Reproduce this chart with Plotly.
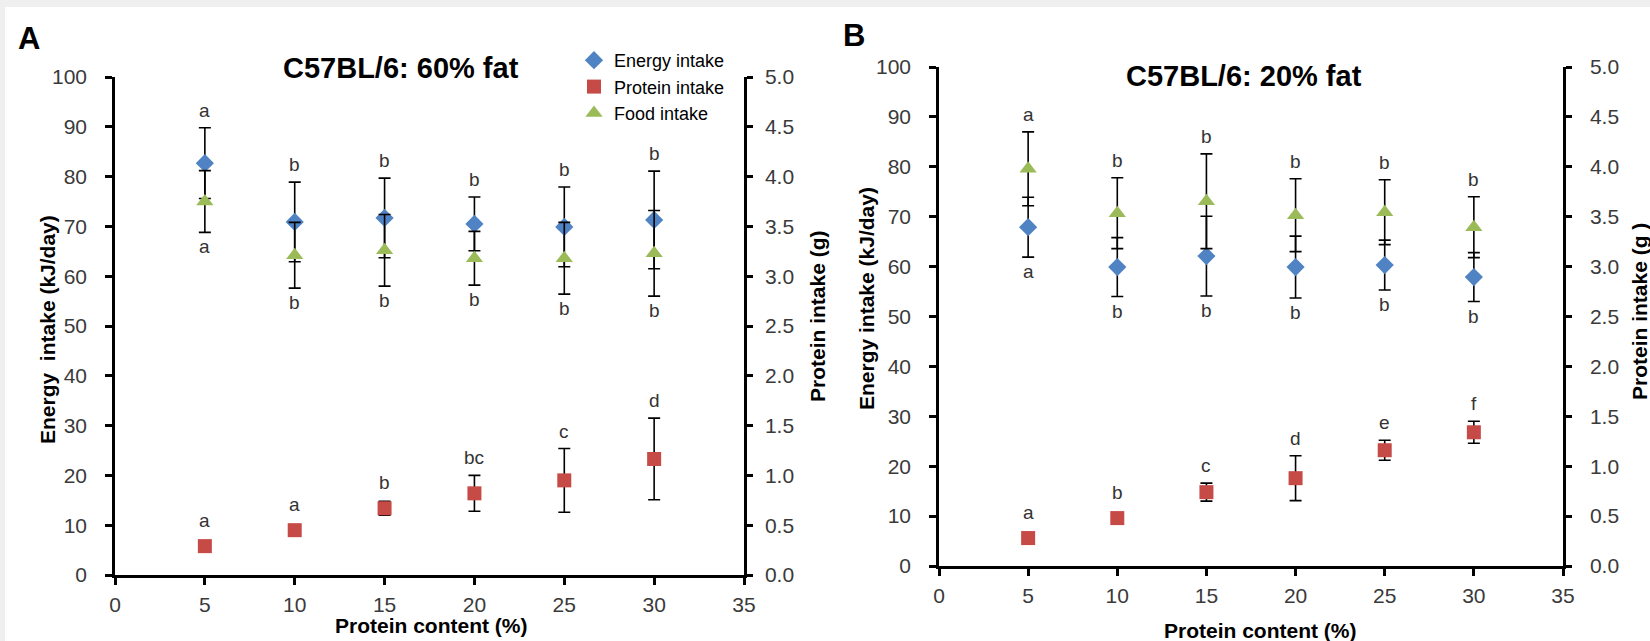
import plotly.graph_objects as go

W, H = 1650, 641

# ---------------- data ----------------
protein_content = [5, 10, 15, 20, 25, 30]

# Panel A: C57BL/6, 60% fat
a_energy = [82.7, 70.9, 71.7, 70.5, 69.9, 71.3]          # kJ/day
a_energy_se = [7.1, 8.0, 8.0, 5.4, 8.0, 9.8]
a_food = [3.75, 3.21, 3.26, 3.18, 3.18, 3.23]             # g
a_food_se = [0.31, 0.33, 0.36, 0.27, 0.36, 0.43]
a_protein = [0.29, 0.45, 0.67, 0.82, 0.95, 1.165]         # g
a_protein_se = [0.02, 0.02, 0.07, 0.18, 0.32, 0.41]
a_top_letters = ["a", "b", "b", "b", "b", "b"]
a_bottom_letters = ["a", "b", "b", "b", "b", "b"]
a_protein_letters = ["a", "a", "b", "bc", "c", "d"]

# Panel B: C57BL/6, 20% fat
b_energy = [67.9, 59.9, 62.1, 59.9, 60.3, 57.9]
b_energy_se = [6.0, 5.9, 8.0, 6.2, 5.0, 4.9]
b_food = [3.98, 3.535, 3.655, 3.515, 3.545, 3.395]
b_food_se = [0.37, 0.355, 0.475, 0.365, 0.325, 0.305]
b_protein = [0.28, 0.48, 0.74, 0.88, 1.16, 1.34]
b_protein_se = [0.02, 0.02, 0.09, 0.225, 0.10, 0.11]
b_top_letters = ["a", "b", "b", "b", "b", "b"]
b_bottom_letters = ["a", "b", "b", "b", "b", "b"]
b_protein_letters = ["a", "b", "c", "d", "e", "f"]

x_ticks = [0, 5, 10, 15, 20, 25, 30, 35]
left_ticks = list(range(0, 101, 10))
right_ticks = [0.0, 0.5, 1.0, 1.5, 2.0, 2.5, 3.0, 3.5, 4.0, 4.5, 5.0]
LEFT_MAX, RIGHT_MAX = 100, 5.0

# ---------------- style ----------------
FONT = "Liberation Sans, Arial, sans-serif"
BLUE = "#4F83C4"
RED = "#C64A45"
GREEN = "#9BBB59"
TICKCOL = "#3a3a3a"

def px2paper_y(p):
    return 1 - p / H

def px2paper_x(p):
    return p / W

fig = go.Figure()

def err(arr):
    return dict(type="data", array=arr, visible=True, color="black",
                thickness=1.6, width=6)

def add_panel(xa, yl, yr, energy, energy_se, food, food_se, protein, protein_se, show):
    fig.add_trace(go.Scatter(
        x=protein_content, y=energy, mode="markers", name="Energy intake",
        marker=dict(symbol="diamond", size=14, color=BLUE),
        error_y=err(energy_se), xaxis=xa, yaxis=yl, showlegend=show))
    fig.add_trace(go.Scatter(
        x=protein_content, y=protein, mode="markers", name="Protein intake",
        marker=dict(symbol="square", size=14, color=RED),
        error_y=err(protein_se), xaxis=xa, yaxis=yr, showlegend=show))
    fig.add_trace(go.Scatter(
        x=protein_content, y=food, mode="markers", name="Food intake",
        marker=dict(symbol="triangle-up", size=15, color=GREEN),
        error_y=err(food_se), xaxis=xa, yaxis=yr, showlegend=show))

add_panel("x", "y", "y2", a_energy, a_energy_se, a_food, a_food_se,
          a_protein, a_protein_se, True)
add_panel("x2", "y3", "y4", b_energy, b_energy_se, b_food, b_food_se,
          b_protein, b_protein_se, False)

annotations = []
ratio = LEFT_MAX / RIGHT_MAX

def letters(xref, yref, yref_r, energy, energy_se, food, food_se, protein,
            protein_se, top_l, bot_l, prot_l):
    for i, xv in enumerate(protein_content):
        top = max(energy[i] + energy_se[i], (food[i] + food_se[i]) * ratio)
        bot = min(energy[i] - energy_se[i], (food[i] - food_se[i]) * ratio)
        annotations.append(dict(x=xv, y=top, xref=xref, yref=yref, text=top_l[i],
                                showarrow=False, yanchor="bottom", yshift=5,
                                font=dict(family=FONT, size=19, color="#333")))
        annotations.append(dict(x=xv, y=bot, xref=xref, yref=yref, text=bot_l[i],
                                showarrow=False, yanchor="top", yshift=-2,
                                font=dict(family=FONT, size=19, color="#333")))
        ptop = max(protein[i] + protein_se[i], protein[i] + 0.08)
        annotations.append(dict(x=xv, y=ptop, xref=xref, yref=yref_r, text=prot_l[i],
                                showarrow=False, yanchor="bottom", yshift=5,
                                font=dict(family=FONT, size=19, color="#333")))

letters("x", "y", "y2", a_energy, a_energy_se, a_food, a_food_se, a_protein,
        a_protein_se, a_top_letters, a_bottom_letters, a_protein_letters)
letters("x2", "y3", "y4", b_energy, b_energy_se, b_food, b_food_se, b_protein,
        b_protein_se, b_top_letters, b_bottom_letters, b_protein_letters)

def text(x, y, s, size, bold=True, angle=0):
    annotations.append(dict(
        x=px2paper_x(x), y=px2paper_y(y), xref="paper", yref="paper",
        text=f"<b>{s}</b>" if bold else s, showarrow=False, textangle=angle,
        xanchor="center", yanchor="middle",
        font=dict(family=FONT, size=size, color="black")))

# panel letters and titles
text(29, 39, "A", 31)
text(854, 36, "B", 31)
text(401, 68, "C57BL/6: 60% fat", 29)
text(1244, 76, "C57BL/6: 20% fat", 29)
text(38, 656, "C", 31)
# axis titles
text(47, 330, "Energy\u00a0 intake (kJ/day)", 21, angle=-90)
text(818, 316, "Protein intake (g)", 21, angle=-90)
text(866, 299, "Energy intake (kJ/day)", 21, angle=-90)
text(1639, 312, "Protein intake (g )", 21, angle=-90)
text(431, 625, "Protein content (%)", 21)
text(1260, 630, "Protein content (%)", 21)

def xaxis(domain, anchor):
    return dict(domain=domain, anchor=anchor, range=[0, 35], tickvals=x_ticks,
                showline=True, linecolor="black", linewidth=2.5, showgrid=False,
                zeroline=False, ticks="outside", ticklen=7, tickwidth=2.5,
                tickcolor="black", ticklabelstandoff=2, automargin=False,
                tickfont=dict(family=FONT, size=21, color=TICKCOL), fixedrange=True)

def yleft(domain, anchor):
    return dict(domain=domain, anchor=anchor, range=[0, LEFT_MAX], tickvals=left_ticks,
                showline=True, linecolor="black", linewidth=2.5, showgrid=False,
                zeroline=False, ticks="outside", ticklen=7, tickwidth=2.5,
                tickcolor="black", ticklabelstandoff=14, automargin=False,
                tickfont=dict(family=FONT, size=21, color=TICKCOL), fixedrange=True)

def yright(overlay, anchor, standoff):
    return dict(overlaying=overlay, anchor=anchor, side="right", range=[0, RIGHT_MAX],
                tickvals=right_ticks, tickformat=".1f", automargin=False,
                showline=True, linecolor="black", linewidth=2.5, showgrid=False,
                zeroline=False, ticks="outside", ticklen=6, tickwidth=2.5,
                tickcolor="black", ticklabelstandoff=standoff,
                tickfont=dict(family=FONT, size=21, color=TICKCOL), fixedrange=True)

fig.update_layout(
    width=W, height=H,
    margin=dict(l=0, r=0, t=0, b=0, pad=0, autoexpand=False),
    paper_bgcolor="white", plot_bgcolor="white",
    xaxis=xaxis([115 / W, 744 / W], "y"),
    yaxis=yleft([1 - 575 / H, 1 - 77 / H], "x"),
    yaxis2=yright("y", "x", 8),
    xaxis2=xaxis([939 / W, 1563 / W], "y3"),
    yaxis3=yleft([1 - 566 / H, 1 - 67 / H], "x2"),
    yaxis4=yright("y3", "x2", 14),
    showlegend=True,
    legend=dict(x=px2paper_x(574), y=px2paper_y(42), xanchor="left", yanchor="top",
                bgcolor="rgba(0,0,0,0)", font=dict(family=FONT, size=18, color="black"),
                itemclick=False, tracegroupgap=0),
    annotations=annotations,
    shapes=[
        dict(type="rect", xref="paper", yref="paper", x0=0, x1=1,
             y0=px2paper_y(7), y1=1, fillcolor="#efefef", line=dict(width=0),
             layer="below"),
        dict(type="rect", xref="paper", yref="paper", x0=0, x1=px2paper_x(5),
             y0=0, y1=1, fillcolor="#efefef", line=dict(width=0), layer="below"),
    ],
)

fig.write_html("out.html", include_plotlyjs=True, config={"displayModeBar": False})
